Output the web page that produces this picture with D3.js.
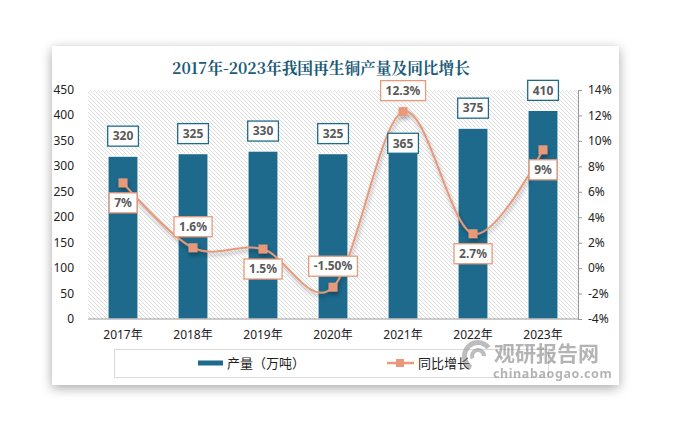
<!DOCTYPE html>
<html><head><meta charset="utf-8">
<script src="https://cdn.jsdelivr.net/npm/d3@7"></script>
<style>body{margin:0;background:#fff;}svg{display:block;}</style>
</head><body>
<script>
const years = ["2017年","2018年","2019年","2020年","2021年","2022年","2023年"];
const output = [320, 325, 330, 325, 365, 375, 410];
const growth = [6.7, 1.6, 1.5, -1.5, 12.3, 2.7, 9.3];
const growthLabels = ["7%","1.6%","1.5%","-1.50%","12.3%","2.7%","9%"];
const growthLabelPos = ["below","above","below","above","above","below","below"];
const leftTicks = [0,50,100,150,200,250,300,350,400,450];
const rightTicks = [-4,-2,0,2,4,6,8,10,12,14];

const W = 673, H = 443;
const plotLeft = 88, plotRight = 578, plotTop = 90, plotBottom = 319;
const svg = d3.select("body").append("svg").attr("width", W).attr("height", H)
  .style("font-family", "'Noto Sans', 'Noto Sans CJK SC', sans-serif");
const defs = svg.append("defs");
const sh = defs.append("filter").attr("id","cardShadow").attr("x","-10%").attr("y","-10%").attr("width","120%").attr("height","125%");
sh.append("feGaussianBlur").attr("in","SourceAlpha").attr("stdDeviation",6);
sh.append("feOffset").attr("dx",0).attr("dy",3).attr("result","b");
sh.append("feComponentTransfer").append("feFuncA").attr("type","linear").attr("slope",0.35);
const mg = sh.append("feMerge"); mg.append("feMergeNode"); mg.append("feMergeNode").attr("in","SourceGraphic");
const ls = defs.append("filter").attr("id","lineShadow").attr("x","-10%").attr("y","-20%").attr("width","120%").attr("height","140%");
ls.append("feGaussianBlur").attr("in","SourceAlpha").attr("stdDeviation",2);
ls.append("feOffset").attr("dx",1).attr("dy",3);
ls.append("feComponentTransfer").append("feFuncA").attr("type","linear").attr("slope",0.35);
const mg2 = ls.append("feMerge"); mg2.append("feMergeNode"); mg2.append("feMergeNode").attr("in","SourceGraphic");
const pat = defs.append("pattern").attr("id","hatch").attr("patternUnits","userSpaceOnUse").attr("width",4).attr("height",4);
pat.append("path").attr("d","M0,0 L4,4 M-1,3 L1,5 M3,-1 L5,1").attr("stroke","#d4d4d4").attr("stroke-width",0.8);

// card
svg.append("rect").attr("x",52).attr("y",46).attr("width",567).attr("height",339).attr("fill","#fff").attr("filter","url(#cardShadow)");

svg.append("text").attr("x",321).attr("y",74).attr("text-anchor","middle")
  .attr("font-family","'Noto Serif CJK SC','DejaVu Serif',serif").attr("font-weight","bold")
  .attr("font-size",15.7).attr("fill","#1b5a78").text("2017年-2023年我国再生铜产量及同比增长");

const x = d3.scaleBand().domain(years).range([plotLeft, plotRight]).paddingInner(0.57).paddingOuter(0.285);
const y = d3.scaleLinear().domain([0,450]).range([plotBottom, plotTop]);
const y2 = d3.scaleLinear().domain([-4,14]).range([plotBottom, plotTop]);

svg.append("rect").attr("x",plotLeft).attr("y",plotTop).attr("width",plotRight-plotLeft).attr("height",plotBottom-plotTop).attr("fill","url(#hatch)");

// left axis labels
svg.append("g").selectAll("text").data(leftTicks).join("text")
  .attr("x",74).attr("y",d=>y(d)+4).attr("text-anchor","end").attr("font-size",12).attr("fill","#222").text(d=>d);
// right axis
const ra = svg.append("g").attr("transform",`translate(${plotRight},0)`)
  .call(d3.axisRight(y2).tickValues(rightTicks).tickSize(4).tickPadding(6).tickFormat(d=>d+"%"));
ra.select(".domain").attr("stroke","#999");
ra.selectAll(".tick line").attr("stroke","#999");
ra.selectAll(".tick text").attr("font-size",12).attr("fill","#222").attr("font-family","'Noto Sans',sans-serif");

// bars
svg.append("g").selectAll("rect").data(output).join("rect")
  .attr("x",(d,i)=>x(years[i])).attr("y",d=>y(d)).attr("width",x.bandwidth()).attr("height",d=>plotBottom-y(d))
  .attr("fill","#1d6a8c").attr("stroke","#fff").attr("stroke-width",1.2);

// x axis line
svg.append("line").attr("x1",plotLeft).attr("x2",plotRight).attr("y1",plotBottom).attr("y2",plotBottom).attr("stroke","#999").attr("stroke-width",1);
svg.append("g").selectAll("text").data(years).join("text")
  .attr("x",d=>x(d)+x.bandwidth()/2).attr("y",plotBottom+20).attr("text-anchor","middle").attr("font-size",12).attr("fill","#222").text(d=>d);

// line
const cx = (i)=>x(years[i])+x.bandwidth()/2;
const line = d3.line().x((d,i)=>cx(i)).y(d=>y2(d)).curve(d3.curveCardinal.tension(0));
const lg = svg.append("g").attr("filter","url(#lineShadow)");
lg.append("path").attr("d",line(growth)).attr("fill","none").attr("stroke","#e8997a").attr("stroke-width",2);
lg.selectAll("rect").data(growth).join("rect")
  .attr("x",(d,i)=>cx(i)-4.5).attr("y",d=>y2(d)-4.5).attr("width",9).attr("height",9).attr("fill","#e8997a");

function labelBox(g, cxv, cyv, text, color) {
  const t = g.append("text").attr("x",cxv).attr("y",cyv+4.3).attr("text-anchor","middle")
    .attr("font-size",12).attr("font-weight","bold").attr("fill","#595959").text(text);
  const bb = t.node().getBBox();
  g.insert("rect","text").attr("x",bb.x-5).attr("y",cyv-10).attr("width",bb.width+10).attr("height",20)
    .attr("fill","#fff").attr("stroke",color).attr("stroke-width",1.3);
}
// bar labels
output.forEach((v,i)=>{
  const g = svg.append("g");
  const cyv = i===4 ? y(v)+10 : y(v)-20;
  labelBox(g, cx(i), cyv, String(v), "#1d6a8c");
});
// growth labels
growth.forEach((v,i)=>{
  const g = svg.append("g");
  const cyv = growthLabelPos[i]==="above" ? y2(v)-21 : y2(v)+20;
  labelBox(g, cx(i), cyv, growthLabels[i], "#e8997a");
});

// legend
svg.append("rect").attr("x",114.5).attr("y",349.5).attr("width",434).attr("height",28).attr("fill","none").attr("stroke","#d9d9d9");
svg.append("rect").attr("x",198).attr("y",360.5).attr("width",25).attr("height",5).attr("fill","#1d6a8c");
svg.append("text").attr("x",227).attr("y",367.5).attr("font-size",13).attr("fill","#222")
  .attr("font-family","'Noto Sans CJK SC',sans-serif").text("产量（万吨）");
svg.append("line").attr("x1",387).attr("x2",414).attr("y1",363).attr("y2",363).attr("stroke","#e8997a").attr("stroke-width",2.5);
svg.append("rect").attr("x",396).attr("y",359).attr("width",8).attr("height",8).attr("fill","#e8997a");
svg.append("text").attr("x",418).attr("y",367.5).attr("font-size",13).attr("fill","#222")
  .attr("font-family","'Noto Sans CJK SC',sans-serif").text("同比增长");

// watermark
const wm = svg.append("g").attr("opacity",0.55);
wm.append("path").attr("d",d3.arc()({innerRadius:11,outerRadius:16,startAngle:-2.6,endAngle:0.9})).attr("transform","translate(478,356)").attr("fill","#888");
wm.append("path").attr("d",d3.arc()({innerRadius:4,outerRadius:8,startAngle:-2.0,endAngle:1.6})).attr("transform","translate(478,356)").attr("fill","#888");
wm.append("text").attr("x",494).attr("y",361).attr("font-size",21).attr("font-weight","bold").attr("fill","#777")
  .attr("font-family","'Noto Sans CJK SC',sans-serif").text("观研报告网");
wm.append("text").attr("x",493).attr("y",378).attr("font-size",12.5).attr("font-weight","bold").attr("fill","#777")
  .attr("letter-spacing","0.6").text("chinabaogao.com");
</script>
</body></html>
